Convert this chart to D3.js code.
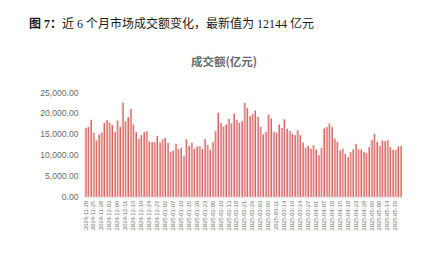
<!DOCTYPE html>
<html>
<head>
<meta charset="utf-8">
<script src="https://cdn.jsdelivr.net/npm/d3@7/dist/d3.min.js"></script>
<style>
  html, body { margin: 0; padding: 0; background: #fff; }
  svg { display: block; }
</style>
</head>
<body>
<svg id="chart" width="428" height="264"></svg>
<script>
// Trading days, 2024-11-20 .. 2025-05-21
const dates = [
  "2024-11-20","2024-11-21","2024-11-22","2024-11-25","2024-11-26","2024-11-27","2024-11-28","2024-11-29",
  "2024-12-02","2024-12-03","2024-12-04","2024-12-05","2024-12-06","2024-12-09","2024-12-10","2024-12-11",
  "2024-12-12","2024-12-13","2024-12-16","2024-12-17","2024-12-18","2024-12-19","2024-12-20","2024-12-23",
  "2024-12-24","2024-12-25","2024-12-26","2024-12-27","2024-12-30","2024-12-31",
  "2025-01-02","2025-01-03","2025-01-06","2025-01-07","2025-01-08","2025-01-09","2025-01-10","2025-01-13",
  "2025-01-14","2025-01-15","2025-01-16","2025-01-17","2025-01-20","2025-01-21","2025-01-22","2025-01-23",
  "2025-01-24","2025-01-27",
  "2025-02-05","2025-02-06","2025-02-07","2025-02-10","2025-02-11","2025-02-12","2025-02-13","2025-02-14",
  "2025-02-17","2025-02-18","2025-02-19","2025-02-20","2025-02-21","2025-02-24","2025-02-25","2025-02-26",
  "2025-02-27","2025-02-28",
  "2025-03-03","2025-03-04","2025-03-05","2025-03-06","2025-03-07","2025-03-10","2025-03-11","2025-03-12",
  "2025-03-13","2025-03-14","2025-03-17","2025-03-18","2025-03-19","2025-03-20","2025-03-21","2025-03-24",
  "2025-03-25","2025-03-26","2025-03-27","2025-03-28","2025-03-31",
  "2025-04-01","2025-04-02","2025-04-03","2025-04-07","2025-04-08","2025-04-09","2025-04-10","2025-04-11",
  "2025-04-14","2025-04-15","2025-04-16","2025-04-17","2025-04-18","2025-04-21","2025-04-22","2025-04-23",
  "2025-04-24","2025-04-25","2025-04-28","2025-04-29","2025-04-30",
  "2025-05-06","2025-05-07","2025-05-08","2025-05-09","2025-05-12","2025-05-13","2025-05-14","2025-05-15",
  "2025-05-16","2025-05-19","2025-05-20","2025-05-21"
];

// Daily turnover, 亿元
const turnover = [
  16500,16700,18420,15300,13470,14900,15390,17700,18340,17780,17150,15470,18260,16750,22560,18100,
  19060,21050,17300,15470,13870,14750,15470,15710,13230,13080,13080,14590,12990,13710,
  14110,12920,10760,11000,12680,11400,11720,9810,13800,12200,12920,11480,12040,12120,11480,13800,
  12440,11240,
  13080,15710,20090,17700,16820,17300,18660,17540,19930,18420,17700,18100,22490,21290,19300,19850,
  20650,19140,
  16750,14900,15550,19690,18730,15550,15310,17300,16500,18580,16270,15790,15070,14750,15950,14750,
  12990,11720,12200,11480,12360,
  11320,9970,11720,16340,16670,17540,16670,13950,13160,11080,11480,10290,9490,10690,11320,12680,
  11320,11320,10760,10450,11890,
  13630,15070,13160,12200,13470,13320,13560,11890,11240,11240,12040,12144
];

const yTicks = [0, 5000, 10000, 15000, 20000, 25000];
const labelEvery = 3;

const titleLead = "图 7：";
const titleRest = "近 6 个月市场成交额变化，最新值为 12144 亿元";
const chartTitle = "成交额(亿元)";

const svg = d3.select("#chart");

// Bar gradient: pale pink on the left edge to red on the right edge
const defs = svg.append("defs");
const grad = defs.append("linearGradient")
  .attr("id", "barFill")
  .attr("x1", "0").attr("y1", "0").attr("x2", "1").attr("y2", "0");
grad.append("stop").attr("offset", "0").attr("stop-color", "#f4c3c2");
grad.append("stop").attr("offset", "0.5").attr("stop-color", "#e79896");
grad.append("stop").attr("offset", "1").attr("stop-color", "#c0302c");

const x = d3.scaleBand()
  .domain(dates)
  .range([84.2, 402])
  .paddingInner(0.25)
  .paddingOuter(0.125);

const y = d3.scaleLinear()
  .domain([0, 25000])
  .range([196.8, 92.3]);

// Heading
const head = svg.append("text")
  .attr("x", 29)
  .attr("y", 27.5)
  .attr("font-family", "'Liberation Serif', 'Noto Sans CJK SC', serif")
  .attr("font-size", 12)
  .attr("fill", "#1a1a1a");
head.append("tspan").attr("font-weight", "bold").text(titleLead);
head.append("tspan").text(titleRest);

// Chart title
svg.append("text")
  .attr("x", 224)
  .attr("y", 66)
  .attr("text-anchor", "middle")
  .attr("font-family", "'Noto Sans CJK SC', sans-serif")
  .attr("font-size", 11.5)
  .attr("font-weight", "bold")
  .attr("fill", "#6b6b6b")
  .text(chartTitle);

// Baseline
svg.append("line")
  .attr("x1", 84).attr("x2", 403)
  .attr("y1", y(0) + 0.5).attr("y2", y(0) + 0.5)
  .attr("stroke", "#e3e3e3")
  .attr("stroke-width", 1);

// Bars
svg.append("g")
  .selectAll("rect")
  .data(dates.map((d, i) => ({ d, v: turnover[i] })))
  .join("rect")
  .attr("x", p => x(p.d))
  .attr("y", p => y(p.v))
  .attr("width", x.bandwidth())
  .attr("height", p => y(0) - y(p.v))
  .attr("fill", "url(#barFill)");

// Y axis (labels only)
const yAxis = d3.axisLeft(y)
  .tickValues(yTicks)
  .tickFormat(d3.format(",.2f"))
  .tickSize(0)
  .tickPadding(0);
const gy = svg.append("g")
  .attr("transform", "translate(78.5,0)")
  .call(yAxis);
gy.select(".domain").remove();
gy.selectAll("text")
  .attr("font-family", "'Liberation Sans', Arial, sans-serif")
  .attr("font-size", 8.6)
  .attr("fill", "#6a6a6a");

// X axis (rotated date labels every third trading day)
const xAxis = d3.axisBottom(x)
  .tickValues(dates.filter((d, i) => i % labelEvery === 0))
  .tickSize(0)
  .tickPadding(0);
const gx = svg.append("g")
  .attr("transform", `translate(0,${y(0) + 4})`)
  .call(xAxis);
gx.select(".domain").remove();
gx.selectAll("text")
  .attr("font-family", "'Liberation Sans', Arial, sans-serif")
  .attr("font-size", 5.8)
  .attr("fill", "#6f6f6f")
  .attr("text-anchor", "end")
  .attr("dominant-baseline", "central")
  .attr("dy", null)
  .attr("y", 0)
  .attr("transform", "rotate(-90)");
</script>
</body>
</html>
